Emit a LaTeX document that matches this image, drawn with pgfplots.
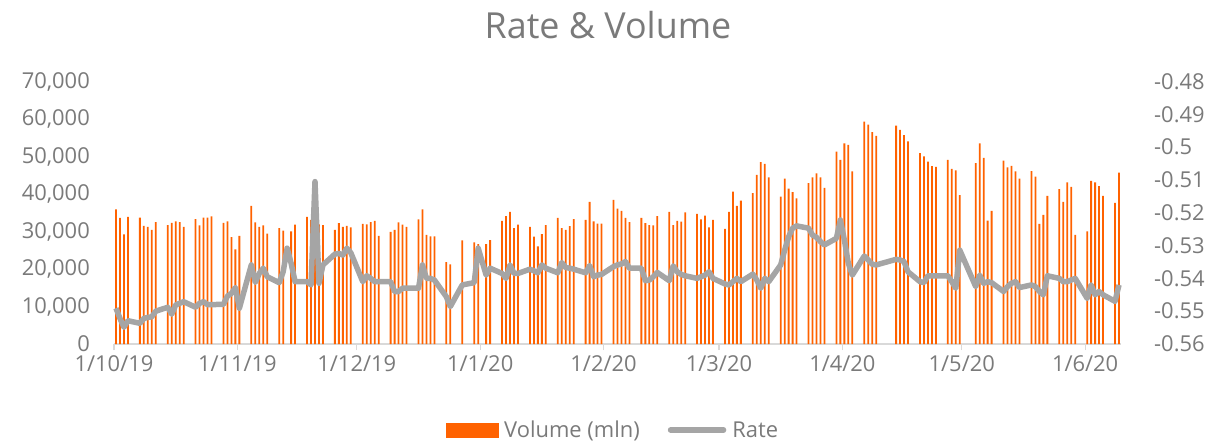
\documentclass[border=0pt]{standalone}
\usepackage{fontspec}
\setmainfont{Open Sans}
\usepackage{pgfplots}
\usepackage{pgfplotstable}
\pgfplotsset{compat=1.18}
\definecolor{ingorange}{HTML}{FF6200}
\definecolor{linegray}{HTML}{A5A5A5}
\definecolor{txtgray}{HTML}{7A7A7A}
\definecolor{axgray}{HTML}{D9D9D9}

% d = days since 1 Oct 2019 (business days); vol in mln; rate
\pgfplotstableread{
d vol rate
0 35900 -0.5491
1 33600 -0.5522
2 29200 -0.5549
3 33900 -0.5529
6 33700 -0.5537
7 31500 -0.5522
8 31200 -0.5519
9 30400 -0.5517
10 32500 -0.5500
13 31700 -0.5488
14 32300 -0.5509
15 32700 -0.5481
16 32500 -0.5476
17 31200 -0.5471
20 33300 -0.5488
21 31600 -0.5476
22 33700 -0.5471
23 33700 -0.5480
24 34000 -0.5480
27 32300 -0.5479
28 32700 -0.5454
29 28500 -0.5446
30 25200 -0.5428
31 28800 -0.5491
34 36800 -0.5359
35 32400 -0.5412
36 31200 -0.5385
37 31600 -0.5369
38 29400 -0.5395
41 30900 -0.5413
42 30200 -0.5380
43 nan -0.5308
44 30000 -0.5354
45 31800 -0.5410
48 33900 -0.5410
49 33100 -0.5420
50 32000 -0.5105
51 31900 -0.5415
52 31700 -0.5359
55 30400 -0.5326
56 32200 -0.5324
57 31200 -0.5329
58 31500 -0.5308
59 31100 -0.5322
62 32000 -0.5410
63 31900 -0.5392
64 32500 -0.5400
65 32800 -0.5410
66 28800 -0.5410
69 29900 -0.5410
70 30400 -0.5440
71 32400 -0.5440
72 31800 -0.5430
73 31200 -0.5430
76 33200 -0.5430
77 35900 -0.5359
78 29100 -0.5400
79 28700 -0.5400
80 28700 -0.5405
83 21800 -0.5456
84 21200 -0.5486
87 27600 -0.5420
90 27100 -0.5413
91 26600 -0.5308
93 26600 -0.5390
94 27700 -0.5369
97 32800 -0.5385
98 34100 -0.5400
99 35200 -0.5359
100 30900 -0.5385
101 31800 -0.5385
104 31200 -0.5372
105 28600 -0.5377
106 26000 -0.5383
107 29300 -0.5359
108 31700 -0.5369
111 33600 -0.5383
112 30900 -0.5352
113 30400 -0.5367
114 31400 -0.5369
115 33300 -0.5372
118 33100 -0.5383
119 37900 -0.5361
120 32700 -0.5395
121 32100 -0.5390
122 32100 -0.5388
125 38400 -0.5364
126 36100 -0.5359
127 35500 -0.5356
128 33600 -0.5349
129 32500 -0.5369
132 33600 -0.5369
133 32200 -0.5407
134 31700 -0.5405
135 31600 -0.5395
136 34100 -0.5382
139 35200 -0.5407
140 31700 -0.5362
141 32800 -0.5380
142 32600 -0.5388
143 35100 -0.5392
146 34700 -0.5400
147 33200 -0.5395
148 34200 -0.5390
149 31100 -0.5380
150 33100 -0.5400
153 30700 -0.5417
154 35200 -0.5420
155 40600 -0.5410
156 36800 -0.5400
157 38200 -0.5410
160 40200 -0.5387
161 45100 -0.5405
162 48500 -0.5430
163 48000 -0.5400
164 44400 -0.5410
167 39300 -0.5359
168 44100 -0.5314
169 41400 -0.5273
170 40500 -0.5247
171 38800 -0.5240
174 42900 -0.5247
175 44400 -0.5268
176 45500 -0.5275
177 44400 -0.5288
178 41600 -0.5298
181 51300 -0.5278
182 49100 -0.5222
183 53500 -0.5283
184 53100 -0.5354
185 46000 -0.5390
188 59300 -0.5332
189 58500 -0.5344
190 56500 -0.5357
191 55500 -0.5359
196 58200 -0.5342
197 57100 -0.5344
198 55700 -0.5349
199 54000 -0.5380
202 50900 -0.5410
203 50000 -0.5413
204 48600 -0.5392
205 47400 -0.5392
206 47200 -0.5392
209 49100 -0.5392
210 46700 -0.5410
211 46300 -0.5430
212 39700 -0.5314
216 48200 -0.5425
217 53500 -0.5390
218 49600 -0.5415
219 32900 -0.5410
220 35500 -0.5413
223 48900 -0.5440
224 47100 -0.5425
225 47500 -0.5415
226 46000 -0.5410
227 44100 -0.5428
230 46100 -0.5420
231 44600 -0.5425
232 32000 -0.5440
233 34400 -0.5450
234 39500 -0.5392
237 41300 -0.5400
238 37900 -0.5410
239 43100 -0.5410
240 41900 -0.5405
241 29100 -0.5400
244 30000 -0.5461
245 43500 -0.5420
246 43100 -0.5450
247 42100 -0.5440
248 39500 -0.5450
251 37600 -0.5470
252 45700 -0.5420
}\data

\pgfplotsset{
  common/.style={
    scale only axis, width=1007bp, height=262.5bp,
    xmin=-0.5, xmax=252.5,
    tick label style={font=\fontsize{22}{24}\selectfont, text=txtgray},
    scaled y ticks=false, scaled x ticks=false,
    clip=false,
  }
}

\begin{document}
\begin{tikzpicture}
\path[use as bounding box] (-114bp,-100bp) rectangle (1103bp,344bp);
\begin{axis}[common,
  ymin=0, ymax=70000,
  axis x line*=bottom, axis y line*=left,
  x axis line style={axgray, line width=1.3bp, -},
  y axis line style={draw=none},
  xtick={-0.5,30.5,60.5,91.5,122.5,151.5,182.5,212.5,243.5},
  xticklabels={1/10/19,1/11/19,1/12/19,1/1/20,1/2/20,1/3/20,1/4/20,1/5/20,1/6/20},
  x tick style={axgray, line width=1.3bp},
  tick align=outside, major tick length=6bp,
  ytick={0,10000,20000,30000,40000,50000,60000,70000},
  yticklabels={0,{10,000},{20,000},{30,000},{40,000},{50,000},{60,000},{70,000}},
  y tick style={draw=none},
  yticklabel style={inner sep=0pt, anchor=east, xshift=-18bp},
  xticklabel style={inner sep=0pt, anchor=north, yshift=-5bp},
]
\addplot[ybar, bar width=1.8bp, fill=ingorange, draw=none] table[x=d, y=vol] {\data};
\end{axis}
\begin{axis}[common,
  ymin=-0.56, ymax=-0.48,
  axis x line=none, axis y line*=right,
  y axis line style={draw=none},
  ytick={-0.56,-0.55,-0.54,-0.53,-0.52,-0.51,-0.5,-0.49,-0.48},
  yticklabels={-0.56,-0.55,-0.54,-0.53,-0.52,-0.51,-0.5,-0.49,-0.48},
  y tick style={draw=none}, major tick length=0bp,
  yticklabel style={inner sep=0pt, anchor=west, xshift=33bp},
  legend style={at={(0.4945,-0.3276)}, anchor=center, draw=none, fill=none,
    font=\fontsize{22}{24}\selectfont, text=txtgray,
    nodes={inner sep=0pt}, inner sep=0pt,
    /tikz/every odd column/.style={column sep=6bp},
    /tikz/every even column/.style={column sep=28bp}},
  legend columns=2,
]
\addlegendimage{legend image code/.code={\fill[ingorange] (0bp,-7bp) rectangle (52bp,7bp);}}
\addlegendentry{Volume (mln)}
\addplot[linegray, line width=5.5bp, line join=round, mark=none,
  legend image code/.code={\draw[linegray, line width=5.5bp, line cap=round] (2bp,0bp) -- (55bp,0bp);}]
  table[x=d, y=rate] {\data};
\addlegendentry{Rate}
\end{axis}
\node[font=\fontsize{36}{40}\selectfont, text=txtgray] at (494bp,319bp) {Rate \& Volume};
\end{tikzpicture}
\end{document}
